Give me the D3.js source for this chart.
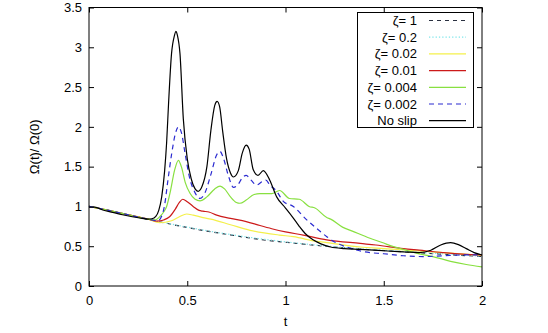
<!DOCTYPE html>
<html>
<head>
<meta charset="utf-8">
<script src="https://cdn.jsdelivr.net/npm/d3@7"></script>
<style>
  html, body { margin: 0; padding: 0; background: #fff; }
  svg { display: block; font-family: "Liberation Sans", Arial, Helvetica, sans-serif; }
</style>
</head>
<body>
<svg id="chart" width="548" height="333"></svg>
<script>
// Angular velocity ratio Ω(t)/Ω(0) for several slip coefficients ζ
const xTicks = [0, 0.5, 1, 1.5, 2];
const yTicks = [0, 0.5, 1, 1.5, 2, 2.5, 3, 3.5];
const seriesLabels = ["ζ= 1", "ζ= 0.2", "ζ= 0.02", "ζ= 0.01", "ζ= 0.004", "ζ= 0.002", "No slip"];

const tZeta1 = [0, 0.1, 0.2, 0.3, 0.4, 0.5, 0.6, 0.7, 0.8, 0.9, 1.0, 1.2, 1.4, 1.6, 1.8, 2.0];
const vZeta1 = [1.0, 0.95, 0.895, 0.84, 0.785, 0.735, 0.69, 0.65, 0.61, 0.575, 0.55, 0.5, 0.46, 0.43, 0.4, 0.37];

const tZeta02 = [0, 0.1, 0.2, 0.3, 0.4, 0.5, 0.6, 0.7, 0.8, 0.9, 1.0, 1.2, 1.4, 1.6, 1.8, 2.0];
const vZeta02 = [1.0, 0.95, 0.895, 0.84, 0.787, 0.74, 0.695, 0.655, 0.618, 0.585, 0.555, 0.505, 0.465, 0.435, 0.405, 0.375];

const tZeta002 = [0, 0.1, 0.2, 0.3, 0.36, 0.42, 0.46, 0.497, 0.53, 0.58, 0.62, 0.72, 0.82, 0.97, 1.04, 1.16, 1.21, 1.38, 1.5, 1.75, 2.0];
const vZeta002 = [1.0, 0.95, 0.895, 0.84, 0.795, 0.82, 0.87, 0.905, 0.89, 0.86, 0.84, 0.77, 0.7, 0.64, 0.62, 0.56, 0.545, 0.49, 0.47, 0.43, 0.385];

const tZeta001 = [0, 0.1, 0.2, 0.3, 0.345, 0.38, 0.41, 0.44, 0.46, 0.477, 0.5, 0.53, 0.56, 0.58, 0.61, 0.65, 0.72, 0.8, 0.87, 0.93, 1.0, 1.09, 1.21, 1.38, 1.46, 1.6, 1.68, 1.8, 1.9, 2.0];
const vZeta001 = [1.0, 0.95, 0.895, 0.84, 0.815, 0.83, 0.87, 0.97, 1.05, 1.09, 1.06, 1.0, 0.95, 0.94, 0.93, 0.89, 0.85, 0.81, 0.76, 0.72, 0.68, 0.64, 0.58, 0.535, 0.515, 0.47, 0.45, 0.42, 0.4, 0.39];

const tZeta0004 = [0, 0.1, 0.2, 0.3, 0.335, 0.36, 0.38, 0.395, 0.415, 0.435, 0.455, 0.47, 0.49, 0.514, 0.54, 0.565, 0.6, 0.64, 0.667, 0.69, 0.72, 0.75, 0.768, 0.8, 0.84, 0.87, 0.9, 0.93, 0.97, 1.02, 1.07, 1.12, 1.15, 1.21, 1.23, 1.29, 1.34, 1.43, 1.5, 1.53, 1.6, 1.67, 1.75, 1.84, 1.92, 2.0];
const vZeta0004 = [1.0, 0.95, 0.895, 0.84, 0.83, 0.87, 0.93, 1.0, 1.2, 1.45, 1.58, 1.5, 1.3, 1.165, 1.09, 1.07, 1.12, 1.22, 1.256, 1.22, 1.12, 1.05, 1.04, 1.08, 1.15, 1.16, 1.16, 1.16, 1.2, 1.1, 1.09, 1.0, 0.98, 0.86, 0.84, 0.74, 0.69, 0.6, 0.54, 0.51, 0.46, 0.41, 0.37, 0.31, 0.27, 0.24];

const tZeta0002 = [0, 0.1, 0.2, 0.3, 0.35, 0.37, 0.385, 0.4, 0.42, 0.44, 0.455, 0.47, 0.49, 0.51, 0.54, 0.565, 0.59, 0.62, 0.65, 0.667, 0.685, 0.71, 0.735, 0.76, 0.78, 0.8, 0.825, 0.853, 0.88, 0.9, 0.92, 0.955, 0.99, 1.04, 1.1, 1.16, 1.21, 1.26, 1.31, 1.4, 1.5, 1.6, 1.7, 1.8, 1.9, 2.0];
const vZeta0002 = [1.0, 0.95, 0.895, 0.84, 0.82, 0.88, 1.02, 1.3, 1.65, 1.92, 2.0, 1.93, 1.65, 1.38, 1.17, 1.1, 1.17, 1.4, 1.65, 1.69, 1.6, 1.38, 1.24, 1.28, 1.36, 1.39, 1.33, 1.27, 1.31, 1.33, 1.27, 1.19, 1.06, 1.0, 0.85, 0.72, 0.62, 0.54, 0.49, 0.43, 0.405, 0.38, 0.37, 0.38, 0.39, 0.39];

const tNoSlip = [0, 0.03, 0.07, 0.12, 0.17, 0.22, 0.27, 0.3, 0.32, 0.34, 0.355, 0.37, 0.385, 0.395, 0.405, 0.42, 0.435, 0.442, 0.45, 0.463, 0.48, 0.5, 0.52, 0.54, 0.555, 0.575, 0.6, 0.62, 0.64, 0.652, 0.665, 0.68, 0.7, 0.72, 0.735, 0.76, 0.78, 0.8, 0.815, 0.836, 0.86, 0.887, 0.92, 0.955, 1.0, 1.035, 1.07, 1.1, 1.14, 1.18, 1.23, 1.3, 1.38, 1.45, 1.52, 1.6, 1.68, 1.74, 1.79, 1.84, 1.88, 1.92, 1.96, 2.0];
const vNoSlip = [0.99, 0.99, 0.955, 0.925, 0.895, 0.87, 0.85, 0.84, 0.845, 0.875, 0.95, 1.12, 1.45, 1.8, 2.3, 2.92, 3.15, 3.2, 3.15, 2.92, 2.1, 1.6, 1.35, 1.22, 1.19, 1.25, 1.5, 1.95, 2.27, 2.32, 2.25, 1.95, 1.6, 1.42, 1.37, 1.45, 1.67, 1.77, 1.72, 1.46, 1.39, 1.45, 1.33, 1.12, 0.98, 0.87, 0.75, 0.66, 0.58, 0.53, 0.49, 0.47, 0.46, 0.45, 0.44, 0.43, 0.42, 0.45, 0.515, 0.545, 0.52, 0.47, 0.42, 0.39];

const seriesT = [tZeta1, tZeta02, tZeta002, tZeta001, tZeta0004, tZeta0002, tNoSlip];
const seriesV = [vZeta1, vZeta02, vZeta002, vZeta001, vZeta0004, vZeta0002, vNoSlip];
const seriesColor = ["#2a3040", "#7fe6ea", "#f4f04a", "#cc1a1a", "#88e040", "#2a2ad0", "#000000"];
const seriesDash = ["4,4", "1.3,2", null, null, null, "5,4", null];

const svg = d3.select("#chart");
const plotLeft = 89, plotRight = 482, plotTop = 7.5, plotBottom = 286;

const x = d3.scaleLinear().domain([0, 2]).range([plotLeft, plotRight]);
const y = d3.scaleLinear().domain([0, 3.5]).range([plotBottom, plotTop]);

// Axes with inward ticks, mirrored on top and right
const tickLen = 5;
const fontSize = 13;

const gx = svg.append("g").attr("transform", `translate(0,${plotBottom})`)
  .call(d3.axisBottom(x).tickValues(xTicks).tickSize(-tickLen).tickPadding(10).tickFormat(d => String(d)));
const gy = svg.append("g").attr("transform", `translate(${plotLeft},0)`)
  .call(d3.axisLeft(y).tickValues(yTicks).tickSize(-tickLen).tickPadding(7).tickFormat(d => String(d)));
const gxt = svg.append("g").attr("transform", `translate(0,${plotTop})`)
  .call(d3.axisTop(x).tickValues(xTicks).tickSize(-tickLen).tickFormat(""));
const gyr = svg.append("g").attr("transform", `translate(${plotRight},0)`)
  .call(d3.axisRight(y).tickValues(yTicks).tickSize(-tickLen).tickFormat(""));

[gx, gy, gxt, gyr].forEach(g => {
  g.select(".domain").remove();
  g.selectAll("line").attr("stroke", "#000").attr("stroke-width", 1);
  g.selectAll("text").attr("font-size", fontSize).attr("fill", "#000")
    .attr("font-family", "Liberation Sans, Arial, sans-serif");
});

// Curves
const line = d3.line().x(d => x(d[0])).y(d => y(d[1])).curve(d3.curveMonotoneX);
const plot = svg.append("g");
seriesT.forEach((ts, i) => {
  const pts = ts.map((t, j) => [t, seriesV[i][j]]);
  plot.append("path")
    .attr("d", line(pts))
    .attr("fill", "none")
    .attr("stroke", seriesColor[i])
    .attr("stroke-width", 1.2)
    .attr("stroke-dasharray", seriesDash[i]);
});

// Frame
svg.append("rect")
  .attr("x", plotLeft).attr("y", plotTop)
  .attr("width", plotRight - plotLeft).attr("height", plotBottom - plotTop)
  .attr("fill", "none").attr("stroke", "#000").attr("stroke-width", 1);

// Axis titles
svg.append("text")
  .attr("x", x(1)).attr("y", 326)
  .attr("text-anchor", "middle")
  .attr("font-size", fontSize)
  .text("t");
svg.append("text")
  .attr("transform", `translate(39,${(plotTop + plotBottom) / 2}) rotate(-90)`)
  .attr("text-anchor", "middle")
  .attr("font-size", fontSize)
  .text("Ω(t)/ Ω(0)");

// Legend
const legend = svg.append("g");
legend.append("rect")
  .attr("x", 357.5).attr("y", 12.5)
  .attr("width", 116).attr("height", 115)
  .attr("fill", "#fff").attr("stroke", "#000").attr("stroke-width", 1);
seriesLabels.forEach((lab, i) => {
  const cy = 20.5 + i * 16.7;
  legend.append("text")
    .attr("x", 417).attr("y", cy).attr("dy", "0.35em")
    .attr("text-anchor", "end")
    .attr("font-size", fontSize)
    .text(lab);
  legend.append("line")
    .attr("x1", 429).attr("x2", 466)
    .attr("y1", cy).attr("y2", cy)
    .attr("stroke", seriesColor[i])
    .attr("stroke-width", 1.2)
    .attr("stroke-dasharray", seriesDash[i]);
});
</script>
</body>
</html>
